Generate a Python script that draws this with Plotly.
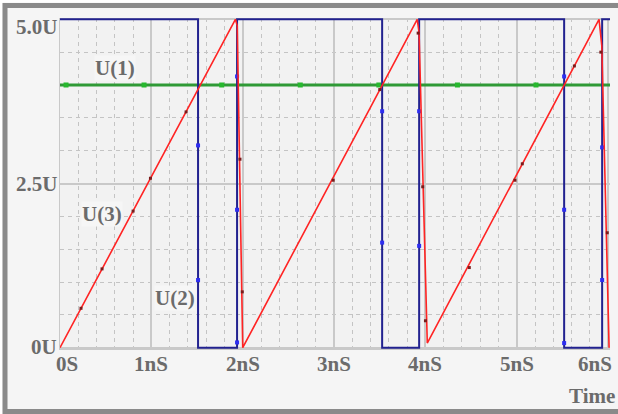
import plotly.graph_objects as go

# ---- waveform data (time in nS, level in U) ----
t_u1 = [0.0, 6.02]
v_u1 = [4.0, 4.0]
t_u1_pts = [0.066, 0.92, 1.77, 2.63, 3.49, 4.35, 5.21]
v_u1_pts = [4.0, 4.0, 4.0, 4.0, 4.0, 4.0, 4.0]

t_u2 = [0.0, 1.511, 1.511, 1.938, 1.938, 3.526, 3.526, 3.931, 3.931, 5.518, 5.518, 5.934, 5.934, 6.02]
v_u2 = [5.0, 5.0, 0.0, 0.0, 5.0, 5.0, 0.0, 0.0, 5.0, 5.0, 0.0, 0.0, 5.0, 5.0]
t_u2_pts = [1.511, 1.511, 1.938, 1.938, 1.938, 3.526, 3.526, 3.931, 3.931, 5.518, 5.518, 5.518, 5.934, 5.934]
v_u2_pts = [3.08, 1.03, 4.13, 2.10, 0.08, 3.60, 1.60, 3.60, 1.55, 4.13, 2.10, 0.07, 3.05, 1.03]

t_u3 = [0.0, 1.92, 1.94, 2.0, 3.91, 3.93, 4.02, 5.90, 5.93, 6.01]
v_u3 = [0.0, 5.0, 4.9, 0.0, 5.0, 4.8, 0.07, 5.0, 4.6, 0.0]
t_u3_pts = [0.23, 0.46, 0.80, 0.99, 1.38, 1.97, 1.995, 2.99, 3.50, 3.92, 3.97, 4.0, 4.48, 4.98, 5.06, 5.63, 5.92, 5.99]
v_u3_pts = [0.60, 1.20, 2.08, 2.58, 3.59, 2.87, 0.85, 2.55, 3.93, 4.79, 2.45, 0.41, 1.22, 2.55, 2.80, 4.29, 4.50, 1.75]

x_ticks = [0, 1, 2, 3, 4, 5, 6]
x_tick_text = ["0S", "1nS", "2nS", "3nS", "4nS", "5nS", "6nS"]
y_ticks = [0.0, 2.5, 5.0]
y_tick_text = ["0U", "2.5U", "5.0U"]

# ---- layout geometry ----
W, H = 618, 414
L, R, T, B = 60, 8, 18, 65
PW, PH = W - L - R, H - T - B

TXT = dict(family="Liberation Serif", size=21, color="#6b6b6b")
GRID = "#c9c9c9"

fig = go.Figure()

fig.add_trace(go.Scatter(x=t_u1, y=v_u1, mode="lines",
                         line=dict(color="#2f9a36", width=3), hoverinfo="skip"))
fig.add_trace(go.Scatter(x=t_u1_pts, y=v_u1_pts, mode="markers",
                         marker=dict(symbol="square", size=5, color="#27b82e"),
                         hoverinfo="skip"))
fig.add_trace(go.Scatter(x=t_u2, y=v_u2, mode="lines",
                         line=dict(color="#22228f", width=2), hoverinfo="skip"))
fig.add_trace(go.Scatter(x=t_u2_pts, y=v_u2_pts, mode="markers",
                         marker=dict(symbol="square", size=4, color="#2d2df0"),
                         hoverinfo="skip"))
fig.add_trace(go.Scatter(x=t_u3, y=v_u3, mode="lines",
                         line=dict(color="#ff2424", width=1.6), hoverinfo="skip"))
fig.add_trace(go.Scatter(x=t_u3_pts, y=v_u3_pts, mode="markers",
                         marker=dict(symbol="square", size=3, color="#7a1c1c"),
                         hoverinfo="skip"))

annotations = []
# x tick labels; the outer two are pulled inward
for i, (xv, txt) in enumerate(zip(x_ticks, x_tick_text)):
    if i == 0:
        anchor, shift = "left", -6
    elif i == len(x_ticks) - 1:
        anchor, shift = "right", 6
    else:
        anchor, shift = "center", 0
    annotations.append(dict(x=xv, xref="x", y=0, yref="paper", text="<b>%s</b>" % txt,
                            showarrow=False, xanchor=anchor, yanchor="top",
                            xshift=shift, yshift=-1, font=TXT))
# y tick labels
for yv, txt in zip(y_ticks, y_tick_text):
    ys = -8 if yv == 5.0 else (1 if yv == 0.0 else 0)
    annotations.append(dict(x=0, xref="paper", y=yv, yref="y", text="<b>%s</b>" % txt,
                            showarrow=False, xanchor="right", yanchor="middle",
                            xshift=-1, yshift=ys, font=TXT))
# axis title
annotations.append(dict(x=1, xref="paper", y=0, yref="paper", text="<b>Time</b>",
                        showarrow=False, xanchor="right", yanchor="middle",
                        xshift=7, yshift=-47, font=TXT))
# trace labels
for txt, xv, yv in [("U(1)", 0.597, 4.26), ("U(3)", 0.46, 2.04), ("U(2)", 1.26, 0.76)]:
    annotations.append(dict(x=xv, y=yv, xref="x", yref="y", text="<b>%s</b>" % txt,
                            showarrow=False, xanchor="center", yanchor="middle",
                            bgcolor="#f6f6f6", borderpad=0, font=TXT))


def px_x(p):
    return (p - L) / PW


def px_y(p):
    return 1 - (p - T) / PH


shapes = [
    dict(type="rect", xref="paper", yref="paper",
         x0=px_x(1), x1=px_x(W + 10), y0=px_y(H - 1), y1=px_y(1),
         line=dict(color="#ffffff", width=3), fillcolor="rgba(0,0,0,0)", layer="above"),
    dict(type="rect", xref="paper", yref="paper",
         x0=px_x(5), x1=px_x(W + 10), y0=px_y(H - 2.5), y1=px_y(5.5),
         line=dict(color="#8a8a8a", width=5), fillcolor="rgba(0,0,0,0)", layer="above"),
]

fig.update_layout(
    width=W, height=H,
    margin=dict(l=L, r=R, t=T, b=B, pad=0),
    paper_bgcolor="#f5f5f5",
    plot_bgcolor="#f2f2f2",
    showlegend=False,
    annotations=annotations,
    shapes=shapes,
    xaxis=dict(range=[0, 6.02], tick0=0, dtick=1, showticklabels=False, ticks="",
               showgrid=True, gridcolor=GRID, gridwidth=1.5, zeroline=False,
               showline=True, linecolor=GRID, linewidth=1,
               minor=dict(tick0=0, dtick=0.2, showgrid=True, gridcolor="#c4c4c4",
                          gridwidth=1, griddash="4px,4px")),
    yaxis=dict(range=[-0.02, 5.02], tick0=0, dtick=2.5, showticklabels=False, ticks="",
               showgrid=True, gridcolor=GRID, gridwidth=1.5, zeroline=False,
               showline=True, linecolor=GRID, linewidth=1,
               minor=dict(tick0=0, dtick=0.5, showgrid=True, gridcolor="#c4c4c4",
                          gridwidth=1, griddash="4px,4px")),
)

fig.write_html("out.html")
